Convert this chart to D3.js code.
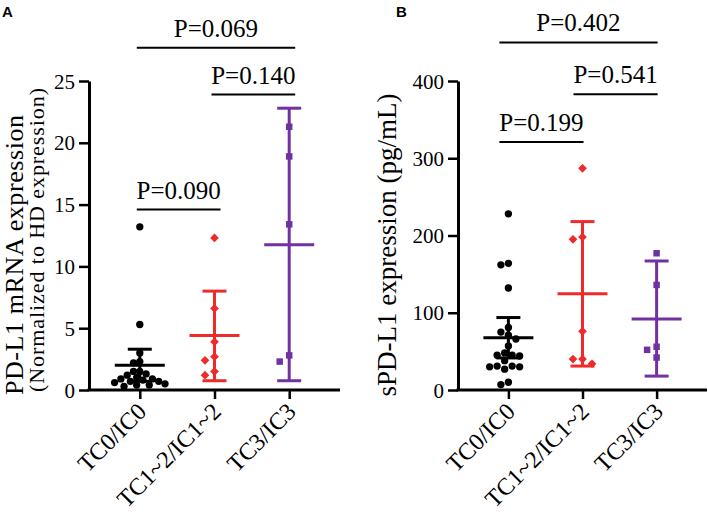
<!DOCTYPE html>
<html>
<head>
<meta charset="utf-8">
<script src="https://cdn.jsdelivr.net/npm/d3@7"></script>
<style>
  body { margin: 0; background: #fff; }
  svg { display: block; }
  text { font-family: "Liberation Serif", "Times New Roman", serif; fill: #000; }
</style>
</head>
<body>
<svg id="chart" width="708" height="518"></svg>
<script>
// categories shared by both panels
var categories = ["TC0/IC0", "TC1~2/IC1~2", "TC3/IC3"];
var groupColors = ["#000000", "#ee2a2b", "#7231a0"];
var groupShapes = ["circle", "diamond", "square"];

// panel A : PD-L1 mRNA
var mrnaTC0 = [13.2, 5.3, 3.0, 2.3, 2.2, 1.5, 1.5, 1.3, 1.2, 1.0, 0.9, 0.9, 0.8, 0.7, 0.7, 0.6, 0.5, 0.4, 0.4, 0.3];
var mrnaTC12 = [12.3, 6.6, 3.9, 2.7, 2.4, 1.5, 1.2];
var mrnaTC3 = [21.3, 18.9, 13.4, 2.8, 2.3];
var mrnaMean = [2.0, 4.4, 11.75];
var mrnaLow = [0.7, 0.75, 0.75];
var mrnaHigh = [3.3, 8.0, 22.8];
var mrnaTicks = [0, 5, 10, 15, 20, 25];
var mrnaPLabels = ["P=0.090", "P=0.140", "P=0.069"];
var mrnaPFrom = [0, 1, 0];
var mrnaPTo = [1, 2, 2];
var mrnaPLevel = [14.6, 23.9, 27.7];

// panel B : soluble PD-L1
var solTC0 = [228, 164, 162, 132, 81, 75, 71, 66, 57, 48, 45, 45, 44, 38, 31, 31, 30, 30, 27, 10, 7];
var solTC12 = [287, 198, 195, 76, 40, 40, 34];
var solTC3 = [177, 136, 56, 52, 42];
var solMean = [67.7, 124.5, 92];
var solLow = [41.5, 31, 18];
var solHigh = [93.8, 218, 167];
var solTicks = [0, 100, 200, 300, 400];
var solPLabels = ["P=0.199", "P=0.541", "P=0.402"];
var solPFrom = [0, 1, 0];
var solPTo = [1, 2, 2];
var solPLevel = [321, 383, 450];

var svg = d3.select("#chart");

// simple dodge so points at similar values sit side by side
function dodge(vals, y, sep) {
  var placed = [];
  vals.forEach(function(v) {
    var py = y(v);
    for (var k = 0; k < 40; k++) {
      var off = (k % 2 === 0 ? 1 : -1) * Math.ceil(k / 2) * sep * 0.5;
      var ok = placed.every(function(p) {
        var dx = p.dx - off, dy = p.y - py;
        return dx * dx + dy * dy >= sep * sep;
      });
      if (ok) { placed.push({v: v, y: py, dx: off}); break; }
    }
  });
  return placed;
}

function drawPanel(cfg) {
  var g = svg.append("g");

  var x = d3.scalePoint()
      .domain(categories)
      .range([cfg.left, cfg.right])
      .padding(0.68);

  var y = d3.scaleLinear()
      .domain([0, cfg.ticks[cfg.ticks.length - 1]])
      .range([390, 81]);

  // y axis
  var yAxis = d3.axisLeft(y)
      .tickValues(cfg.ticks)
      .tickSize(10)
      .tickSizeOuter(0)
      .tickPadding(4);
  var ya = g.append("g")
      .attr("transform", "translate(" + cfg.left + ",0)")
      .call(yAxis);
  ya.select(".domain").attr("stroke-width", 3).attr("stroke", "#000");
  ya.selectAll(".tick line").attr("stroke-width", 2.5);
  ya.selectAll(".tick text")
      .style("font-family", "Liberation Serif, serif")
      .style("font-size", "21px")
      .attr("dy", "0.34em");

  // x axis
  var xAxis = d3.axisBottom(x)
      .tickSize(9)
      .tickSizeOuter(0)
      .tickFormat("");
  var xa = g.append("g")
      .attr("transform", "translate(0,390)")
      .call(xAxis);
  xa.select(".domain")
      .attr("d", "M" + (cfg.left - 1.5) + ",0H" + cfg.right)
      .attr("stroke-width", 3);
  xa.selectAll(".tick line").attr("stroke-width", 2.5);

  // category labels
  g.selectAll(".cat")
      .data(categories)
      .enter().append("text")
      .attr("class", "cat")
      .attr("text-anchor", "end")
      .attr("transform", function(d) {
        return "translate(" + (x(d) + 8) + ",413) rotate(-45)";
      })
      .style("font-size", "24px")
      .text(function(d) { return d; });

  // points
  cfg.groups.forEach(function(vals, i) {
    var shape = groupShapes[i];
    var sep = shape === "circle" ? cfg.circleSep : 9.5;
    var pts = dodge(vals, y, sep);
    var cx = x(categories[i]);
    var sel = g.append("g").selectAll("path")
        .data(pts)
        .enter().append("path")
        .attr("fill", groupColors[i]);
    if (shape === "circle") {
      sel.attr("d", d3.symbol().type(d3.symbolCircle).size(42))
         .attr("transform", function(d) { return "translate(" + (cx + d.dx) + "," + d.y + ")"; });
    } else if (shape === "diamond") {
      sel.attr("d", d3.symbol().type(d3.symbolSquare).size(38))
         .attr("transform", function(d) { return "translate(" + (cx + d.dx) + "," + d.y + ") rotate(45)"; });
    } else {
      sel.attr("d", d3.symbol().type(d3.symbolSquare).size(42))
         .attr("transform", function(d) { return "translate(" + (cx + d.dx) + "," + d.y + ")"; });
    }
  });

  // mean and error bars
  categories.forEach(function(c, i) {
    var cx = x(c);
    var eb = g.append("g")
        .attr("stroke", groupColors[i])
        .attr("stroke-width", 3)
        .attr("fill", "none");
    eb.append("line").attr("x1", cx).attr("x2", cx)
        .attr("y1", y(cfg.low[i])).attr("y2", y(cfg.high[i]));
    eb.append("line").attr("x1", cx - 25).attr("x2", cx + 25)
        .attr("y1", y(cfg.mean[i])).attr("y2", y(cfg.mean[i]));
    [cfg.low[i], cfg.high[i]].forEach(function(v) {
      eb.append("line").attr("x1", cx - 12).attr("x2", cx + 12)
          .attr("y1", y(v)).attr("y2", y(v));
    });
  });

  // p-value brackets
  cfg.pLabels.forEach(function(lab, i) {
    var x1 = x(categories[cfg.pFrom[i]]) + cfg.bx[0];
    var x2 = x(categories[cfg.pTo[i]]) + cfg.bx[1];
    var by = y(cfg.pLevel[i]);
    g.append("line")
        .attr("x1", x1).attr("x2", x2)
        .attr("y1", by).attr("y2", by)
        .attr("stroke", "#000")
        .attr("stroke-width", 2);
    g.append("text")
        .attr("x", (x1 + x2) / 2)
        .attr("y", by - 11)
        .attr("text-anchor", "middle")
        .style("font-size", "25px")
        .text(lab);
  });

  // y titles
  cfg.titles.forEach(function(t) {
    var tt = g.append("text")
        .attr("text-anchor", "middle")
        .attr("transform", "translate(" + t.x + "," + t.y + ") rotate(-90)")
        .style("font-size", t.size + "px")
        .text(t.text);
    if (t.len) tt.attr("textLength", t.len).attr("lengthAdjust", "spacing");
  });

  // panel letter
  g.append("text")
      .attr("x", cfg.letterX)
      .attr("y", 17)
      .style("font-family", "Liberation Sans, Arial, sans-serif")
      .style("font-weight", "bold")
      .style("font-size", "15px")
      .text(cfg.letter);
}

drawPanel({
  left: 89, right: 340,
  ticks: mrnaTicks,
  groups: [mrnaTC0, mrnaTC12, mrnaTC3],
  mean: mrnaMean, low: mrnaLow, high: mrnaHigh,
  pLabels: mrnaPLabels, pFrom: mrnaPFrom, pTo: mrnaPTo, pLevel: mrnaPLevel,
  bx: [-3, 6],
  circleSep: 6.3,
  titles: [
    {text: "PD-L1 mRNA expression", x: 23, y: 255, size: 26, len: 280},
    {text: "(Normalized to HD expression)", x: 44, y: 240, size: 22, len: 304}
  ],
  letter: "A", letterX: 2
});

drawPanel({
  left: 458, right: 707,
  ticks: solTicks,
  groups: [solTC0, solTC12, solTC3],
  mean: solMean, low: solLow, high: solHigh,
  pLabels: solPLabels, pFrom: solPFrom, pTo: solPTo, pLevel: solPLevel,
  bx: [-9, 1],
  circleSep: 7.5,
  titles: [
    {text: "sPD-L1 expression (pg/mL)", x: 396, y: 245, size: 27}
  ],
  letter: "B", letterX: 396
});
</script>
</body>
</html>
